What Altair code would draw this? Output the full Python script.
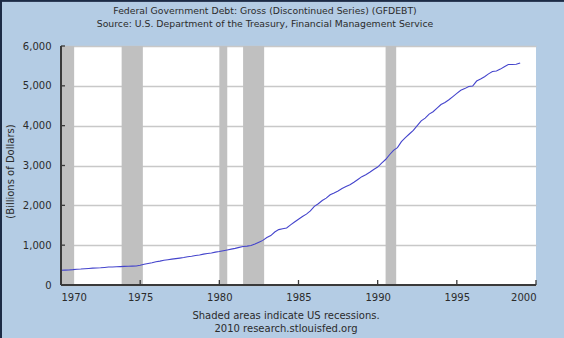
import altair as alt
import pandas as pd

# ---------------- data ----------------
start_year = 1970  # quarterly observations, first one at 1970 Q1
debt = [370, 373, 378, 385,
        395, 400, 408, 415,
        424, 427, 432, 440,
        450, 452, 458, 462,
        468, 470, 473, 478,
        495, 520, 540, 560,
        585, 600, 620, 635,
        650, 662, 675, 690,
        710, 722, 740, 755,
        775, 790, 805, 825,
        840, 860, 880, 900,
        920, 945, 965, 975,
        990, 1030, 1075, 1120,
        1190, 1240, 1330, 1390,
        1410, 1430, 1510, 1580,
        1650, 1720, 1780, 1860,
        1975, 2040, 2120, 2180,
        2265, 2310, 2360, 2420,
        2470, 2515, 2580, 2650,
        2720, 2770, 2830, 2900,
        2960, 3060, 3150, 3270,
        3380, 3450, 3600, 3700,
        3790, 3880, 4000, 4120,
        4190, 4290, 4350, 4440,
        4530, 4580, 4650, 4730,
        4810, 4890, 4930, 4985,
        4995, 5120, 5170, 5230,
        5300, 5360, 5372, 5420,
        5480, 5535, 5535, 5540,
        5575]

rec_start = [1969.92, 1973.83, 1980.0, 1981.5, 1990.5]
rec_end = [1970.83, 1975.17, 1980.5, 1982.83, 1991.17]

x_ticks = [1970, 1975, 1980, 1985, 1990, 1995, 2000]
y_ticks = [0, 1000, 2000, 3000, 4000, 5000, 6000]

title_lines = ["Federal Government Debt: Gross (Discontinued Series) (GFDEBT)",
               "Source: U.S. Department of the Treasury, Financial Management Service"]
footer_lines = ["Shaded areas indicate US recessions.",
                "2010 research.stlouisfed.org"]
y_title = "(Billions of Dollars)"

# ---------------- tables ----------------
line_df = pd.DataFrame({"year": [start_year + i / 4 for i in range(len(debt))],
                        "debt": debt})
rec_df = pd.DataFrame({"start": rec_start, "end": rec_end})
xt_df = pd.DataFrame({"t": x_ticks})
yt_df = pd.DataFrame({"t": y_ticks})

W, H = 475, 239
FONT = "DejaVu Sans"
TXT = "#2b2b2b"

xscale = alt.Scale(domain=[1970, 2000], nice=False, zero=False)
yscale = alt.Scale(domain=[0, 6000], nice=False)

xaxis = alt.Axis(values=x_ticks, labelExpr="format(datum.value, 'd')", grid=False,
                 ticks=False, domain=False,
                 labelPadding=7, labelBaseline="top", title=None,
                 labelFontSize=10, labelFont=FONT, labelColor=TXT, labelOverlap=False)
yaxis = alt.Axis(values=y_ticks, labelExpr="format(datum.value, ',')",
                 grid=True, gridColor="#C8C8C8", gridWidth=1.5,
                 ticks=False, domain=False, labelPadding=10, labelOverlap=False,
                 labelFontSize=10, labelFont=FONT, labelColor=TXT,
                 title=y_title, titleFont=FONT, titleFontSize=10, titleFontWeight="normal",
                 titleColor=TXT, titleX=-51, titleY=125, titleAngle=-90,
                 titleBaseline="middle", titleAlign="center")

recessions = alt.Chart(rec_df).mark_rect(color="#C0C0C0", clip=True).encode(
    x=alt.X("start:Q", scale=xscale, axis=xaxis),
    x2="end:Q",
)

line = alt.Chart(line_df).mark_line(color="#4444CC", strokeWidth=1.1).encode(
    x=alt.X("year:Q", scale=xscale, axis=xaxis),
    y=alt.Y("debt:Q", scale=yscale, axis=yaxis),
)

axis_col = "#3a3a3a"
y_domain = alt.Chart(yt_df).mark_rule(color=axis_col, strokeWidth=2).encode(
    x=alt.value(0), y=alt.value(0), y2=alt.value(H))
x_domain = alt.Chart(xt_df).mark_rule(color=axis_col, strokeWidth=2).encode(
    y=alt.value(H), x=alt.value(0), x2=alt.value(W))
x_tickmarks = alt.Chart(xt_df).mark_rule(color=axis_col, strokeWidth=1.3).encode(
    x=alt.X("t:Q", scale=xscale, axis=xaxis), y=alt.value(H - 5), y2=alt.value(H))
y_tickmarks = alt.Chart(yt_df).mark_rule(color=axis_col, strokeWidth=1.3).encode(
    y=alt.Y("t:Q", scale=yscale, axis=yaxis), x=alt.value(0), x2=alt.value(4))


def text_line(txt, px, py, size):
    return alt.Chart(alt.Data(values=[{"a": 1}])).mark_text(
        font=FONT, fontSize=size, color=TXT, align="center", baseline="middle"
    ).encode(text=alt.value(txt), x=alt.value(px), y=alt.value(py))


t1 = text_line(title_lines[0], 204, -35, 9.3)
t2 = text_line(title_lines[1], 204, -22.5, 9.3)
f1 = text_line(footer_lines[0], 225, H + 30.5, 10)
f2 = text_line(footer_lines[1], 225, H + 44, 10)

border_left = alt.Chart(xt_df).mark_rule(color="#1C2B45", strokeWidth=2).encode(
    x=alt.value(-60), y=alt.value(-46), y2=alt.value(H + 53))
border_top = alt.Chart(xt_df).mark_rule(color="#1C2B45", strokeWidth=1.5).encode(
    y=alt.value(-45.5), x=alt.value(-61), x2=alt.value(W + 28))

chart = alt.layer(
    recessions, line, y_domain, x_domain, x_tickmarks, y_tickmarks,
    t1, t2, f1, f2, border_left, border_top
).properties(
    width=W, height=H,
    autosize=alt.AutoSizeParams(type="none"),
    padding={"left": 61, "top": 46, "right": 28, "bottom": 53},
    background="#B4CCE4",
).configure_view(fill="white", stroke=None)

chart.save("out.html", embed_options={"renderer": "svg", "actions": False})
